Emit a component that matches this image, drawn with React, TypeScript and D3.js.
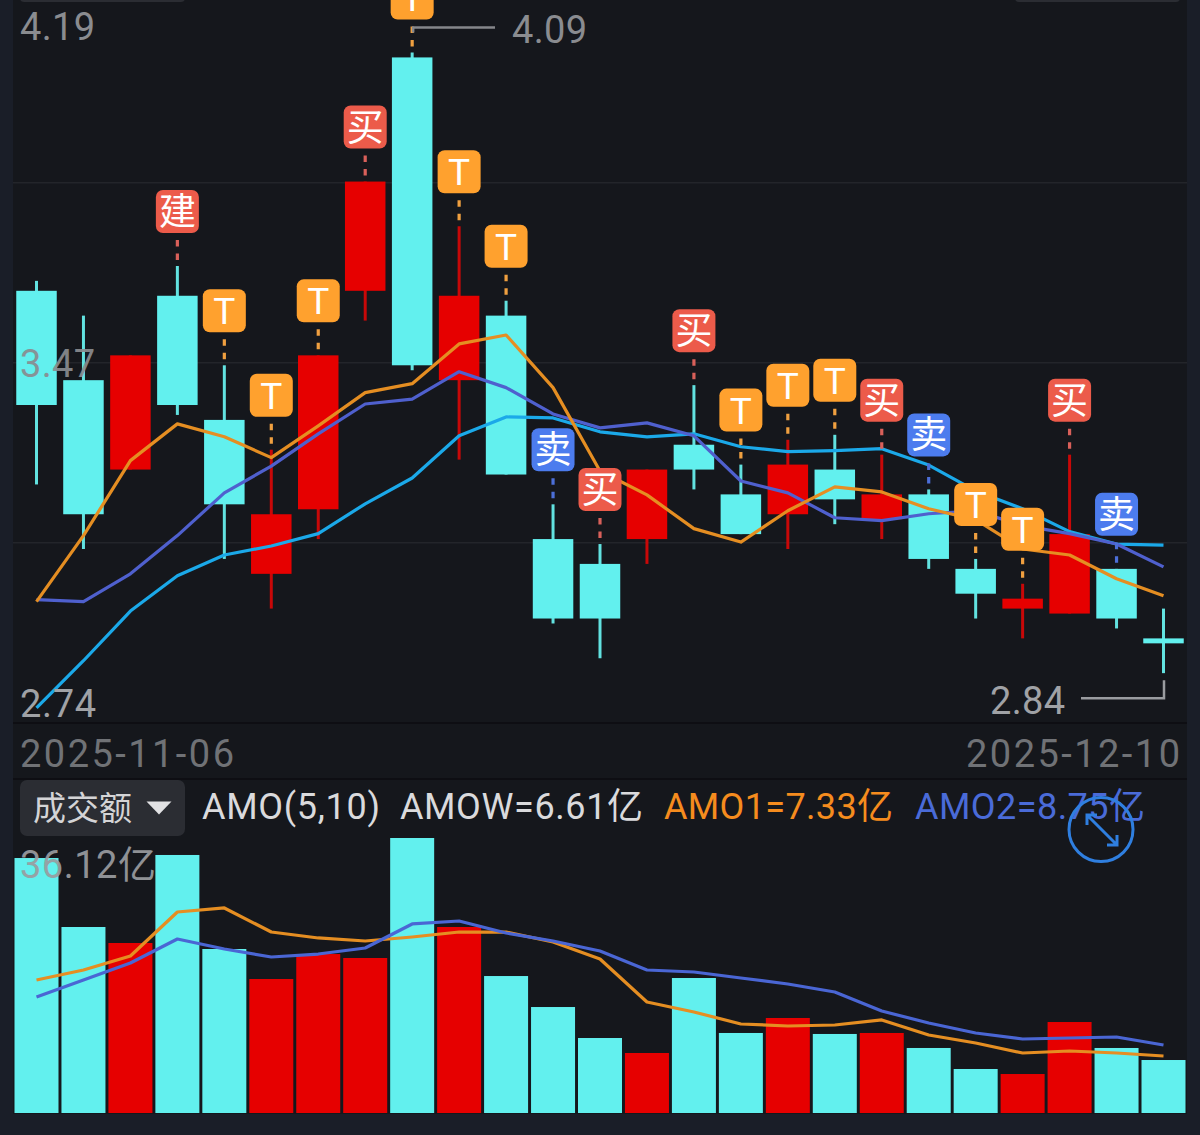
import React from "react";
import * as d3 from "d3";

const dates = ["2025-11-06","2025-11-07","2025-11-10","2025-11-11","2025-11-12","2025-11-13","2025-11-14","2025-11-17","2025-11-18","2025-11-19","2025-11-20","2025-11-21","2025-11-24","2025-11-25","2025-11-26","2025-11-27","2025-11-28","2025-12-01","2025-12-02","2025-12-03","2025-12-04","2025-12-05","2025-12-08","2025-12-09","2025-12-10"];
const opens = [3.61,3.43,3.25,3.60,3.35,3.04,3.17,3.61,4.08,3.43,3.56,3.11,3.06,3.11,3.30,3.20,3.16,3.25,3.15,3.20,3.05,2.97,2.96,3.05,2.91];
const closes = [3.38,3.16,3.48,3.38,3.18,3.16,3.48,3.83,3.46,3.60,3.24,2.95,2.95,3.25,3.25,3.12,3.26,3.19,3.20,3.07,3.00,2.99,3.12,2.95,2.90];
const highs = [3.63,3.56,3.48,3.66,3.46,3.29,3.48,3.83,4.09,3.74,3.59,3.18,3.10,3.25,3.42,3.26,3.31,3.32,3.28,3.21,3.07,3.02,3.28,3.05,2.97];
const lows = [3.22,3.09,3.25,3.36,3.07,2.97,3.11,3.55,3.45,3.27,3.24,2.94,2.87,3.06,3.21,3.12,3.09,3.14,3.11,3.05,2.95,2.91,2.96,2.93,2.84];
const ma5 = [2.984,3.117,3.268,3.342,3.316,3.274,3.338,3.405,3.423,3.503,3.521,3.415,3.247,3.199,3.131,3.104,3.167,3.215,3.205,3.171,3.149,3.090,3.078,3.030,2.996];
const ma10 = [2.988,2.984,3.040,3.117,3.203,3.257,3.322,3.382,3.392,3.447,3.415,3.362,3.334,3.344,3.318,3.227,3.203,3.153,3.147,3.161,3.167,3.137,3.121,3.100,3.054];
const ma20 = [2.770,2.865,2.965,3.036,3.078,3.096,3.121,3.181,3.233,3.318,3.356,3.354,3.326,3.316,3.322,3.296,3.286,3.288,3.292,3.259,3.207,3.171,3.125,3.100,3.098];
const signals = ["","","","建","T","T","T","买","T","T","T","卖","买","","买","T","T","T","买","卖","T","T","买","卖",""];
const amounts = [33.49,24.43,22.33,33.89,21.54,17.60,20.88,20.36,36.12,24.43,17.99,13.92,9.85,7.88,17.73,10.51,12.48,10.38,10.51,8.54,5.78,5.12,11.95,8.54,6.96];
const amo1 = [17.47,18.78,20.62,26.40,26.93,23.77,22.99,22.59,23.12,23.77,23.77,22.46,20.23,14.58,13.27,11.69,11.43,11.56,12.22,10.25,9.19,7.88,8.14,7.88,7.49];
const amo2 = [15.24,17.47,19.70,22.85,21.54,20.49,20.88,21.67,24.83,25.22,23.64,22.59,21.28,18.78,18.52,17.73,16.94,15.89,13.40,11.82,10.51,9.72,9.85,9.98,8.93];
const gridPrices = [3.8275, 3.465, 3.1025];
const midLabel = "3.47";
const priceMax = 4.19;
const priceMin = 2.74;
const maxAmount = 36.12;

const FONT = "Roboto, 'Noto Sans CJK SC', sans-serif";
const CJK = "'Noto Sans CJK SC', sans-serif";
const CYAN = "#62F0EE";
const RED = "#E60000";
const BG = "#15171C";
const OUTER = "#1A1E28";
const LABEL = "#8A8C90";
const W = 400;

const badgeFill: Record<string, string> = { T: "#FFA12E", "买": "#EC5B4A", "建": "#EC5B4A", "卖": "#4C7CEE" };
const dashFill: Record<string, string> = { T: "#F0A040", "买": "#D9605A", "建": "#D9605A", "卖": "#4C6FD8" };

export default function App() {
  const x = d3.scalePoint<string>().domain(dates).range([36.5, 1163.5]);
  const y = d3.scaleLinear().domain([priceMin, priceMax]).range([722.8, 2.8]);
  const v = d3.scaleLinear().domain([0, maxAmount]).range([1113, 838]);
  const lineP = (s: number[]) =>
    d3.line<number>().x((_, i) => x(dates[i]) as number).y((d) => y(d))(s) as string;
  const lineV = (s: number[]) =>
    d3.line<number>().x((_, i) => x(dates[i]) as number).y((d) => v(d))(s) as string;
  const px8 = x(dates[8]) as number;
  const px24 = x(dates[24]) as number;
  const yHi = y(d3.max(highs) as number);
  const yLo = y(d3.min(lows) as number);

  return (
    <svg width={1200} height={1135} viewBox="0 0 1200 1135"
      style={{ position: "absolute", left: 0, top: 0, display: "block" }}>
      <rect width={1200} height={1135} fill={OUTER} />
      <rect x={13} y={0} width={1174} height={1114} fill={BG} />
      <rect x={20} y={-6} width={165} height={8} rx={4} fill="#2B2D33" />
      <rect x={1015} y={-6} width={165} height={8} rx={4} fill="#2B2D33" />

      {gridPrices.map((t) => (
        <line key={t} x1={13} x2={1187} y1={y(t)} y2={y(t)} stroke="#23252A" strokeWidth={1.5} />
      ))}
      <line x1={13} x2={1187} y1={723} y2={723} stroke="#0C0D10" strokeWidth={1.5} />
      <line x1={13} x2={1187} y1={779} y2={779} stroke="#0C0D10" strokeWidth={1.5} />

      {dates.map((d, i) => {
        const up = closes[i] >= opens[i];
        const cx = x(d) as number;
        const top = y(Math.max(opens[i], closes[i]));
        const bot = y(Math.min(opens[i], closes[i]));
        return (
          <g key={d}>
            <line x1={cx} x2={cx} y1={y(highs[i])} y2={y(lows[i])}
              stroke={up ? "#C80808" : "#62E2E0"} strokeWidth={3} />
            <rect x={cx - 20.25} y={top} width={40.5} height={bot - top} fill={up ? RED : CYAN} />
          </g>
        );
      })}

      <path d={lineP(ma20)} fill="none" stroke="#1BA9E9" strokeWidth={3.2} strokeLinejoin="round" />
      <path d={lineP(ma10)} fill="none" stroke="#4F60CE" strokeWidth={3.2} strokeLinejoin="round" />
      <path d={lineP(ma5)} fill="none" stroke="#E58E22" strokeWidth={3.2} strokeLinejoin="round" />

      <text x={20} y={40} fontFamily={FONT} fontSize={38} fontWeight={W} fill={LABEL} textLength={75}>{priceMax.toFixed(2)}</text>
      <text x={20} y={377} fontFamily={FONT} fontSize={38} fontWeight={W} fill={LABEL} opacity={0.92} textLength={75}>{midLabel}</text>
      <text x={20} y={717} fontFamily={FONT} fontSize={38} fontWeight={W} fill="#A0A2A6" textLength={76}>{priceMin.toFixed(2)}</text>

      {signals.map((s, i) => {
        if (!s) return null;
        const cx = x(dates[i]) as number;
        const cy = y(highs[i]) - 54.5;
        return (
          <g key={i}>
            <line x1={cx} x2={cx} y1={cy + 28.5} y2={cy + 48.5} stroke={dashFill[s]}
              strokeWidth={3.2} strokeDasharray="6.5 7" />
            <rect x={cx - 21.5} y={cy - 21.5} width={43} height={43} rx={7} fill={badgeFill[s]} />
            <text x={cx} y={cy + 13.5} textAnchor="middle" fill="#FFFFFF"
              fontFamily={s === "T" ? FONT : CJK} fontSize={37} fontWeight={W}>{s}</text>
          </g>
        );
      })}

      <path d={`M${px8 + 1},${yHi - 20}V${yHi - 25}H495`} fill="none" stroke="#85878B" strokeWidth={2.5} />
      <text x={512} y={43} fontFamily={FONT} fontSize={38} fontWeight={W} fill={LABEL} textLength={75}>{(d3.max(highs) as number).toFixed(2)}</text>
      <path d={`M1081,${yLo + 25}H${px24 + 0.5}V${yLo + 7}`} fill="none" stroke="#9A9CA0" strokeWidth={2.5} />
      <text x={990} y={714} fontFamily={FONT} fontSize={38} fontWeight={W} fill="#A0A2A6" textLength={75}>{(d3.min(lows) as number).toFixed(2)}</text>

      <text x={20} y={767} fontFamily={FONT} fontSize={38} fontWeight={W} fill="#707276" textLength={214}>{dates[0]}</text>
      <text x={966} y={767} fontFamily={FONT} fontSize={38} fontWeight={W} fill="#707276" textLength={214}>{dates[24]}</text>

      <rect x={20} y={780} width={165} height={56} rx={7} fill="#2B2D33" />
      <text x={33} y={820} fontFamily={CJK} fontSize={33} fill="#D4D4D6">成交额</text>
      <path d="M146.5,801.5H171.5L159,814.5Z" fill="#E2E2E4" />
      <text x={202} y={819} fontFamily={FONT} fontSize={36} fontWeight={W} fill="#DADADC" textLength={178}>AMO(5,10)</text>
      <text x={400} y={819} fontFamily={FONT} fontSize={36} fontWeight={W} fill="#DADADC" textLength={243}>AMOW=6.61亿</text>
      <text x={664} y={819} fontFamily={FONT} fontSize={36} fontWeight={W} fill="#F58C1E" textLength={229}>AMO1=7.33亿</text>
      <text x={915} y={819} fontFamily={FONT} fontSize={36} fontWeight={W} fill="#4A6BD8" textLength={230}>AMO2=8.75亿</text>

      {dates.map((d, i) => {
        const cx = x(d) as number;
        const up = closes[i] >= opens[i];
        return <rect key={d} x={cx - 22} y={v(amounts[i])} width={44} height={1113 - v(amounts[i])} fill={up ? RED : CYAN} />;
      })}
      <path d={lineV(amo1)} fill="none" stroke="#E58E22" strokeWidth={3.2} strokeLinejoin="round" />
      <path d={lineV(amo2)} fill="none" stroke="#4A66D4" strokeWidth={3.2} strokeLinejoin="round" />

      <text x={20} y={878} fontFamily={FONT} fontSize={38} fontWeight={W} fill="#9A9CA0" opacity={0.92} textLength={136}>{maxAmount.toFixed(2)}亿</text>

      <g fill="none" stroke="#2F7FE0" strokeWidth={3}>
        <circle cx={1101} cy={829.5} r={32} />
        <path d="M1087,815L1117,845M1087,825V815H1097M1117,835V845H1107" />
      </g>
    </svg>
  );
}
